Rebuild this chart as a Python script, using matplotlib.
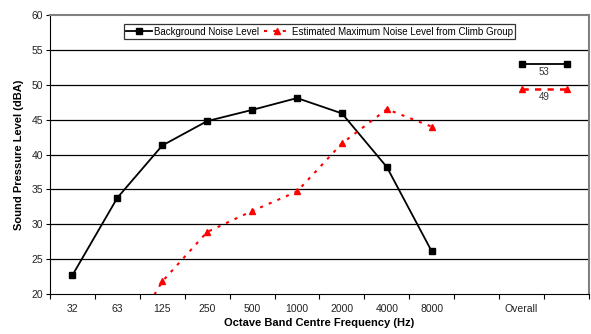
import numpy as np
import matplotlib.pyplot as plt

plt.rcParams['font.family'] = ['Liberation Sans', 'DejaVu Sans']

# category labels along the x axis (blank slots around "Overall")
categories = ["32", "63", "125", "250", "500", "1000", "2000", "4000", "8000", "", "Overall", ""]

# octave band values
band_idx = np.arange(9)
background = [22.7, 33.8, 41.3, 44.8, 46.4, 48.1, 45.9, 38.2, 26.1]
estimated = [np.nan, 11.0, 21.8, 28.9, 31.9, 34.7, 41.6, 46.5, 44.0]

# overall values
overall_idx = [10, 11]
overall_bg = 53.0
overall_est = 49.4

fig = plt.figure(figsize=(5.91, 3.34), dpi=100)
ax = fig.add_axes([0.0846, 0.1198, 0.912, 0.835])

for y in range(25, 60, 5):
    ax.axhline(y, color="black", lw=0.9, zorder=1)

ax.plot(band_idx, background, color="black", lw=1.3, marker="s", ms=4.5,
        label="Background Noise Level", zorder=3)
ax.plot(band_idx, estimated, color="red", lw=1.5, ls=(0, (1.5, 3)), marker="^", ms=5,
        label="Estimated Maximum Noise Level from Climb Group", zorder=3)

ax.plot(overall_idx, [overall_bg] * 2, color="black", lw=1.3, marker="s", ms=4.5, zorder=3)
ax.plot(overall_idx, [overall_est] * 2, color="red", lw=1.8, ls=(0, (2.5, 2.5)), marker="^", ms=5, zorder=3)
mid = np.mean(overall_idx)
ax.text(mid, overall_bg - 0.5, f"{overall_bg:.0f}", ha="center", va="top", fontsize=7, color="#333333")
ax.text(mid, overall_est - 0.5, f"{int(overall_est)}", ha="center", va="top", fontsize=7, color="#333333")

ax.set_xlim(-0.5, len(categories) - 0.5)
ax.set_ylim(20, 60)
ax.set_yticks(range(20, 61, 5))
ax.set_xticks(np.arange(-0.5, len(categories), 1.0))
ax.set_xticklabels([])
ax.set_xticks(np.arange(len(categories)), minor=True)
ax.set_xticklabels(categories, minor=True)
ax.tick_params(axis="x", which="minor", length=0, pad=7, labelsize=7.5, labelcolor="#222222")
ax.tick_params(axis="x", which="major", length=3.5, direction="out")
ax.tick_params(axis="y", length=3, pad=2, direction="out", labelsize=7.5, labelcolor="#222222")

for s in ["top", "right"]:
    ax.spines[s].set_color("#808080")
    ax.spines[s].set_linewidth(1.5)
ax.spines["left"].set_color("black")
ax.spines["bottom"].set_color("black")

ax.set_xlabel("Octave Band Centre Frequency (Hz)", fontsize=8, fontweight="bold", labelpad=3)
ax.set_ylabel("Sound Pressure Level (dBA)", fontsize=8, fontweight="bold", labelpad=5)

leg = ax.legend(loc="upper center", bbox_to_anchor=(0.5, 0.985), ncol=2, fontsize=7,
                frameon=True, fancybox=False, edgecolor="black", handlelength=2.6,
                borderpad=0.25, columnspacing=0.6, handletextpad=0.2)
leg.get_frame().set_linewidth(0.9)

fig.savefig("out.png", dpi=100)
